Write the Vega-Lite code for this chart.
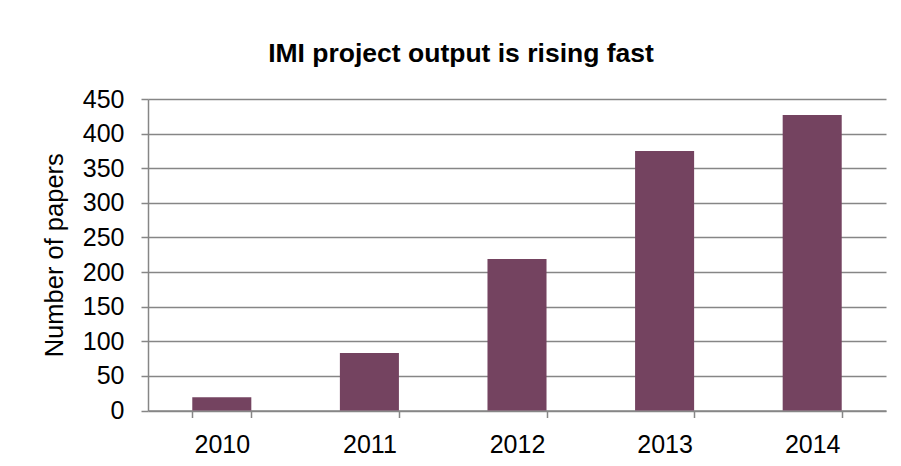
{
  "$schema": "https://vega.github.io/schema/vega-lite/v6.json",
  "autosize": {"type": "none"},
  "width": 738,
  "height": 311.5,
  "padding": {"left": 148, "top": 99, "right": 15, "bottom": 55.5},
  "background": "white",
  "title": {
    "text": "IMI project output is rising fast",
    "font": "Liberation Sans",
    "fontSize": 26.5,
    "fontWeight": "bold",
    "color": "#000000",
    "anchor": "middle",
    "dx": -56,
    "offset": 20
  },
  "data": {
    "values": [
      {"year": "2010", "papers": 19},
      {"year": "2011", "papers": 83},
      {"year": "2012", "papers": 219},
      {"year": "2013", "papers": 375},
      {"year": "2014", "papers": 427}
    ]
  },
  "mark": {"type": "bar", "color": "#744360"},
  "encoding": {
    "x": {
      "field": "year",
      "type": "ordinal",
      "scale": {"paddingInner": 0.6, "paddingOuter": 0.3},
      "axis": {
        "title": null,
        "labelAngle": 0,
        "labelFont": "Liberation Sans",
        "labelFontSize": 25,
        "labelColor": "#000000",
        "labelPadding": 15,
        "domainColor": "#868686",
        "domainWidth": 1.5,
        "ticks": true,
        "tickBand": "extent",
        "tickSize": 7,
        "tickColor": "#868686",
        "tickWidth": 1.5,
        "grid": false
      }
    },
    "y": {
      "field": "papers",
      "type": "quantitative",
      "scale": {"domain": [0, 450], "nice": false},
      "axis": {
        "title": "Number of papers",
        "titleFont": "Liberation Sans",
        "titleFontSize": 25.5,
        "titleFontWeight": "normal",
        "titleColor": "#000000",
        "titlePadding": 15,
        "values": [0, 50, 100, 150, 200, 250, 300, 350, 400, 450],
        "labelFont": "Liberation Sans",
        "labelFontSize": 25,
        "labelColor": "#000000",
        "labelPadding": 17,
        "tickSize": 7,
        "tickColor": "#868686",
        "tickWidth": 1.5,
        "domainColor": "#868686",
        "domainWidth": 1.5,
        "grid": true,
        "gridColor": "#868686",
        "gridWidth": 1.5
      }
    }
  },
  "config": {"view": {"stroke": null}}
}
